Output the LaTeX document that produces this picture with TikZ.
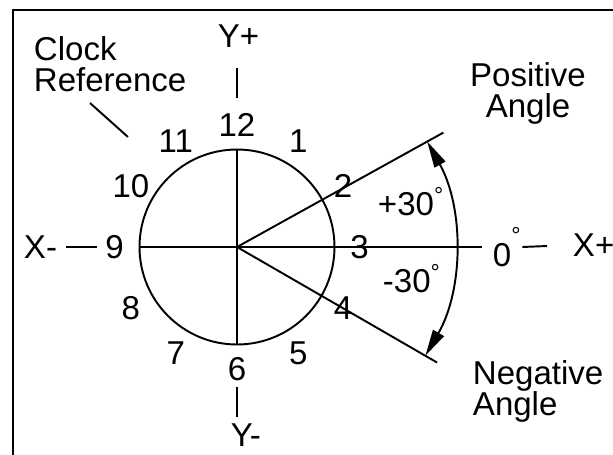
\documentclass[tikz,border=0pt]{standalone}
\usepackage{fontspec}
\setmainfont{Liberation Sans}
\usetikzlibrary{arrows.meta,calc}
\newcommand{\dg}{\textsuperscript{°}}

\begin{document}
\begin{tikzpicture}[line width=1.1pt, every node/.style={font=\fontsize{18.8}{17.6}\selectfont, inner sep=0pt}]
\useasboundingbox (-4.74,-4.14) rectangle (7.52,4.94);
\def\R{2.45}
\draw (-4.48,-4.4) -- (-4.48,4.74) -- (7.8,4.74);
\node[circle, draw, minimum size=3.9cm] (clock) at (0,0) {};
\foreach \i in {1,...,12}
  \node (h\i) at ({90-30*\i}:\R) {\i};
\node[anchor=west] (zero) at (5.1,0) {0\raisebox{7pt}{\dg}};
\node[anchor=west] (xpos) at (6.7,0.04) {X+};
\node[anchor=east] (xneg) at (-3.58,0) {X-};
\node[anchor=south west] (ypos) at (-0.4,3.98) {Y+};
\node[anchor=north west] (yneg) at (-0.14,-3.52) {Y-};
\node[anchor=north west, align=left] (clockref) at (-4.08,4.22) {Clock\\Reference};
\node[anchor=north, align=center] (poslbl) at (5.82,3.7) {Positive\\Angle};
\node[anchor=north west, align=left] (neglbl) at (4.7,-2.26) {Negative\\Angle};
\node[anchor=base west] (plus) at (2.8,0.64) {+30\dg};
\node[anchor=base west] (minus) at (2.9,-0.9) {-30\dg};
\coordinate (leadA) at (-2.94,2.88);
\coordinate (leadB) at (-2.18,2.2);
\coordinate (posend) at (29:4.72);
\coordinate (negend) at (-30:4.62);
\draw[shorten >=0.2cm] (clock.west) -- (zero.west);
\draw (clock.north) -- (clock.south);
\draw (clock.center) -- (posend);
\draw (clock.center) -- (negend);
\draw[{Triangle[length=15pt,width=7pt]}-{Triangle[length=15pt,width=7pt]}] (29:4.35) arc[start angle=29, end angle=-30, radius=4.35];
\draw[shorten <=0.16cm, shorten >=0.14cm] (xneg.east) -- (h9.west);
\draw[shorten >=0.5cm] (zero.east) -- (xpos.west);
\draw[shorten <=0.28cm, shorten >=0.4cm] (h12.north) -- (h12.north |- ypos.south);
\draw[shorten <=0.1cm, shorten >=0.12cm] (h6.south) -- (h6.south |- yneg.north);
\draw (leadA) -- (leadB);
\end{tikzpicture}
\end{document}
